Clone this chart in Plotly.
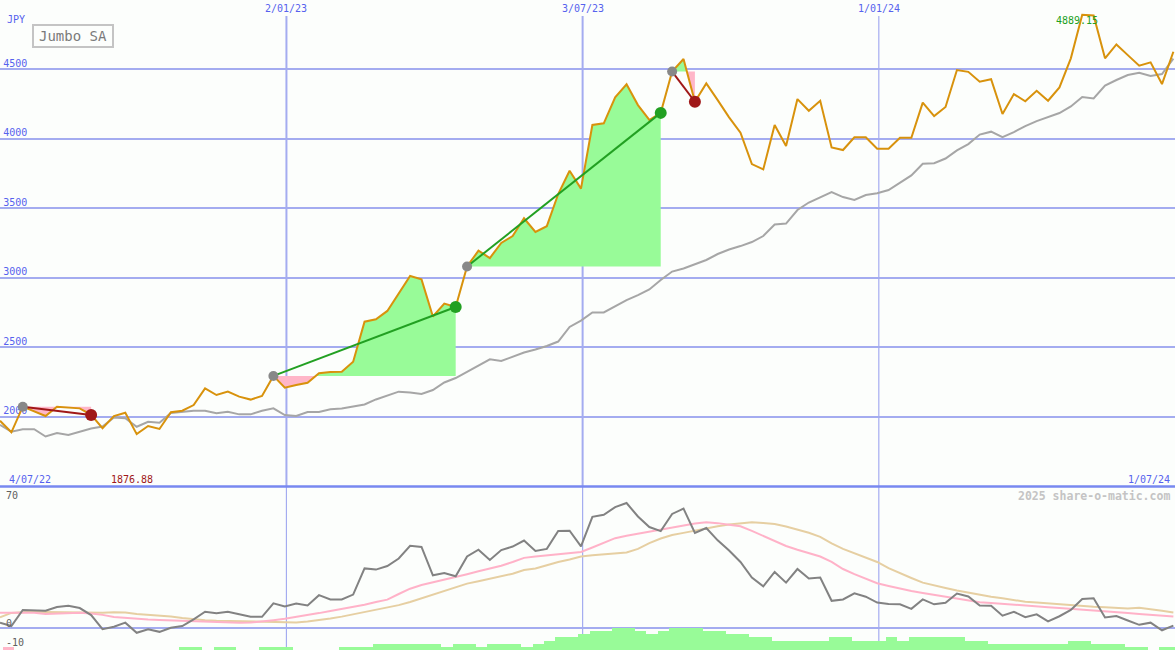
import pandas as pd
import plotly.graph_objects as go

# ---------------- data ----------------
start_date = "2022-07-10"
n_weeks = 104
dates = pd.date_range(start_date, periods=n_weeks, freq="7D")

price = [1973, 1890, 2074, 2041, 2007, 2074, 2070, 2062, 2015, 1919,
         2007, 2031, 1876.88, 1935, 1914, 2034, 2045, 2086, 2206, 2158,
         2182, 2146, 2125, 2151, 2295, 2210, 2230, 2246, 2314, 2323,
         2325, 2397, 2685, 2702, 2762, 2887, 3013, 2989, 2722, 2815,
         2790, 3081, 3195, 3142, 3250, 3300, 3428, 3330, 3371, 3602,
         3769, 3641, 4098, 4110, 4297, 4390, 4241, 4134, 4185, 4482,
         4572, 4265, 4397, 4277, 4153, 4042, 3817, 3779, 4098, 3947,
         4284, 4200, 4272, 3937, 3918, 4009, 4009, 3927, 3927, 4006,
         4006, 4259, 4162, 4227, 4493, 4480, 4409, 4427, 4177, 4320,
         4268, 4344, 4272, 4368, 4577, 4889.15, 4885, 4577, 4677, 4600,
         4524, 4548, 4392, 4624]

moving_avg = [1943, 1894, 1912, 1912, 1860, 1885, 1871, 1892, 1917, 1932,
              1996, 1991, 1930, 1966, 1959, 2029, 2038, 2045, 2045, 2027,
              2038, 2019, 2019, 2045, 2062, 2014, 2007, 2036, 2036, 2055,
              2061, 2075, 2090, 2126, 2154, 2182, 2176, 2165, 2194, 2248,
              2280, 2323, 2366, 2414, 2402, 2432, 2463, 2485, 2510, 2542,
              2647, 2693, 2751, 2751, 2797, 2840, 2876, 2916, 2984, 3045,
              3067, 3099, 3128, 3171, 3203, 3228, 3257, 3300, 3383, 3390,
              3487, 3541, 3580, 3616, 3580, 3559, 3595, 3607, 3631, 3681,
              3736, 3819, 3823, 3857, 3916, 3961, 4029, 4050, 4011, 4047,
              4090, 4126, 4155, 4184, 4231, 4299, 4289, 4381, 4421, 4457,
              4473, 4450, 4464, 4575]

oscillator = [2.5, 0.8, 9.0, 8.8, 8.6, 10.5, 11.2, 10.0, 6.4, -0.8,
              0.4, 2.5, -2.7, -0.9, -2.2, -0.1, 0.8, 4.2, 8.1, 7.3,
              8.1, 6.8, 5.5, 5.5, 12.4, 10.8, 12.3, 11.3, 16.6, 14.4,
              14.4, 16.9, 30.3, 29.7, 31.5, 35.4, 41.9, 41.3, 26.8, 27.9,
              26.3, 36.4, 39.9, 34.6, 39.7, 41.5, 44.6, 39.2, 40.3, 49.5,
              49.6, 41.6, 56.7, 57.8, 61.7, 63.8, 56.9, 51.5, 49.4, 58.2,
              60.9, 48.5, 51.0, 44.7, 39.5, 33.6, 25.6, 21.1, 28.5, 23.0,
              30.0, 25.1, 25.6, 13.7, 14.4, 17.5, 15.8, 12.8, 12.1, 11.9,
              9.6, 14.4, 11.9, 12.7, 17.4, 15.9, 11.3, 11.2, 6.1, 8.1,
              5.3, 6.8, 3.2, 5.8, 9.0, 14.6, 15.0, 5.2, 5.9, 3.6,
              1.4, 2.5, -1.4, 1.0]

osc_fast_avg = [7.6, 7.6, 7.6, 7.6, 7.0, 7.2, 7.7, 7.6, 7.2, 6.5,
                5.4, 4.9, 4.4, 4.1, 3.9, 3.7, 3.3, 3.0, 2.8, 2.7,
                2.5, 2.5, 2.6, 3.1, 3.8, 4.5, 5.4, 6.4, 7.4, 8.5,
                9.5, 10.5, 11.7, 13.1, 14.3, 17.2, 19.9, 21.8, 23.1, 24.5,
                25.9, 27.3, 28.8, 30.3, 31.7, 33.6, 35.7, 36.4, 37.0, 37.7,
                38.2, 38.7, 41.0, 43.4, 45.8, 47.0, 48.1, 49.1, 50.2, 51.3,
                52.4, 53.3, 53.9, 53.5, 52.7, 51.9, 49.5, 46.9, 44.4, 41.8,
                39.9, 38.2, 36.4, 33.6, 30.0, 27.4, 25.0, 22.7, 21.3, 19.9,
                18.7, 17.7, 16.8, 15.8, 14.8, 13.8, 13.0, 12.6, 12.1, 11.7,
                11.3, 10.9, 10.4, 10.0, 9.5, 9.1, 8.6, 8.2, 7.8, 7.4,
                7.0, 6.5, 6.1, 5.6]

osc_slow_avg = [5.2, 7.5, 7.8, 8.1, 8.0, 7.9, 7.8, 7.7, 7.6, 7.6,
                7.9, 7.7, 6.9, 6.5, 6.2, 5.6, 4.9, 4.2, 3.8, 3.5,
                3.4, 3.3, 3.2, 3.0, 2.8, 2.6, 2.6, 3.1, 3.8, 4.6,
                5.6, 6.8, 7.9, 9.2, 10.5, 11.5, 13.1, 14.9, 16.7, 18.7,
                20.6, 22.5, 23.7, 25.0, 26.3, 27.6, 29.5, 30.3, 31.9, 33.6,
                34.9, 36.4, 37.0, 37.5, 37.9, 38.5, 40.3, 43.3, 45.6, 47.4,
                48.5, 49.7, 50.9, 51.9, 52.8, 53.4, 53.9, 53.6, 53.0, 51.8,
                50.2, 48.6, 46.5, 43.1, 40.3, 38.2, 35.9, 33.6, 30.4, 27.7,
                25.4, 23.0, 21.5, 20.3, 19.0, 17.9, 16.8, 15.8, 15.0, 14.1,
                13.2, 12.8, 12.3, 11.9, 11.4, 11.0, 10.6, 10.4, 10.1, 9.8,
                10.1, 9.5, 8.6, 7.7]

volume_level = [0, 0, 0, 0, 0, 0, 0, 0, 0, 0,
                0, 0, 0, 0, 0, 0, 1, 1, 0, 1,
                1, 0, 0, 1, 1, 1, 0, 0, 0, 0,
                1, 1, 1, 2, 2, 2, 2, 2, 2, 1,
                2, 2, 1, 2, 2, 2, 1, 2, 3, 4,
                4, 5, 6, 6, 7, 7, 6, 5, 6, 7,
                7, 7, 6, 6, 5, 5, 4, 4, 3, 3,
                3, 3, 3, 4, 4, 3, 3, 3, 4, 3,
                4, 4, 4, 4, 4, 3, 3, 2, 2, 2,
                2, 2, 2, 2, 3, 3, 2, 2, 2, 1,
                1, 0, 1, 1]
volume_neg_level = [1] + [0] * 103

# trades: (entry week index, exit week index)
trades = [(2, 8), (24, 40), (41, 58), (59, 61)]

y_levels = [2000, 2500, 3000, 3500, 4000, 4500]
y_level_labels = ["2000", "2500", "3000", "3500", "4000", "4500"]
grid_dates = ["2023-01-02", "2023-07-03", "2024-01-01"]
grid_labels = ["2/01/23", "3/07/23", "1/01/24"]
x_range = ["2022-07-10", "2024-07-01"]
first_label, last_label = "4/07/22", "1/07/24"
min_label, max_label = "1876.88", "4889.15"
osc_labels = [("70", 70), ("0", 0), ("-10", -10)]

# ---------------- styling ----------------
BG = "#FCFEFC"
GRID = "#A4ACF0"
BLUE_TXT = "#5662EE"
ORANGE = "#D8920C"
GREY_MA = "#A6A6A6"
FILL_G = "#98FB98"
FILL_P = "#FFB6C8"
GREEN = "#22A022"
RED = "#A01818"
MONO = "DejaVu Sans Mono"
H = 650
W = 1175


def py(pix):
    return 1 - pix / H


fig = go.Figure()

# trade fills
for (ks, ke) in trades:
    E = price[ks]
    xs = [dates[ks]]
    ys = [price[ks]]
    for k in range(ks, ke):
        p0, p1 = price[k], price[k + 1]
        if (p0 - E) * (p1 - E) < 0:
            t = (E - p0) / (p1 - p0)
            xs.append(dates[k] + (dates[k + 1] - dates[k]) * t)
            ys.append(E)
        xs.append(dates[k + 1])
        ys.append(p1)
    base = [E] * len(xs)
    up = [max(v, E) for v in ys]
    dn = [min(v, E) for v in ys]
    for arr, col in ((up, FILL_G), (dn, FILL_P)):
        fig.add_trace(go.Scatter(x=xs, y=base, mode="lines", line=dict(width=0),
                                 hoverinfo="skip", showlegend=False))
        fig.add_trace(go.Scatter(x=xs, y=arr, mode="lines", line=dict(width=0),
                                 fill="tonexty", fillcolor=col,
                                 hoverinfo="skip", showlegend=False))

# y level labels (as text trace so markers can cover them)
fig.add_trace(go.Scatter(x=[dates[0] + pd.Timedelta(days=2)] * len(y_levels), y=y_levels,
                         mode="text", text=y_level_labels, textposition="top right",
                         textfont=dict(family=MONO, size=10, color=BLUE_TXT), cliponaxis=False,
                         hoverinfo="skip", showlegend=False))

# moving average and price
fig.add_trace(go.Scatter(x=dates, y=moving_avg, mode="lines",
                         line=dict(color=GREY_MA, width=2), showlegend=False))
fig.add_trace(go.Scatter(x=dates, y=price, mode="lines",
                         line=dict(color=ORANGE, width=2), showlegend=False))

# trade lines and markers
for (ks, ke) in trades:
    win = price[ke] >= price[ks]
    col = GREEN if win else RED
    fig.add_trace(go.Scatter(x=[dates[ks], dates[ke]], y=[price[ks], price[ke]],
                             mode="lines", line=dict(color=col, width=2), showlegend=False))
    fig.add_trace(go.Scatter(x=[dates[ks]], y=[price[ks]], mode="markers",
                             marker=dict(color="#888888", size=10), showlegend=False))
    fig.add_trace(go.Scatter(x=[dates[ke]], y=[price[ke]], mode="markers",
                             marker=dict(color=col, size=12), showlegend=False))

# lower panel
bar_x = dates + pd.Timedelta(days=3.5)
fig.add_trace(go.Bar(x=bar_x, y=volume_level, width=7 * 86400000, marker=dict(color=FILL_G, line=dict(width=0)),
                     xaxis="x2", yaxis="y3", showlegend=False))
fig.add_trace(go.Bar(x=bar_x, y=volume_neg_level, width=7 * 86400000, marker=dict(color=FILL_P, line=dict(width=0)),
                     xaxis="x2", yaxis="y3", showlegend=False))
fig.add_trace(go.Scatter(x=dates, y=osc_slow_avg, mode="lines", line=dict(color="#E6CFA2", width=2),
                         xaxis="x2", yaxis="y2", showlegend=False))
fig.add_trace(go.Scatter(x=dates, y=osc_fast_avg, mode="lines", line=dict(color="#FFB2C8", width=2),
                         xaxis="x2", yaxis="y2", showlegend=False))
fig.add_trace(go.Scatter(x=dates, y=oscillator, mode="lines", line=dict(color="#828282", width=2),
                         xaxis="x2", yaxis="y2", showlegend=False))

sep = 1 - 487 / H
low_top = 162 / H

shapes = []
for i, gd in enumerate(grid_dates):
    shapes.append(dict(type="line", xref="x", yref="paper", x0=gd, x1=gd,
                       y0=sep, y1=py(16), line=dict(color=GRID, width=2 if i < 2 else 1.2),
                       layer="below"))
    shapes.append(dict(type="line", xref="x", yref="paper", x0=gd, x1=gd,
                       y0=0, y1=sep, line=dict(color=GRID, width=1.2), layer="below"))
shapes.append(dict(type="line", xref="paper", yref="paper", x0=0, x1=1, y0=py(486.5), y1=py(486.5),
                   line=dict(color="#7888F0", width=2.5), layer="above"))

annotations = []
for gd, gl in zip(grid_dates, grid_labels):
    annotations.append(dict(x=gd, xref="x", y=py(8), yref="paper", text=gl, showarrow=False,
                            xanchor="center", yanchor="middle",
                            font=dict(family=MONO, size=10, color=BLUE_TXT)))
annotations += [
    dict(x=5 / W, xref="paper", y=py(19), yref="paper", text="JPY", showarrow=False,
         xanchor="left", yanchor="middle", font=dict(family=MONO, size=10, color=BLUE_TXT)),
    dict(x=73 / W, xref="paper", y=py(36), yref="paper", text="Jumbo SA", showarrow=False,
         xanchor="center", yanchor="middle", width=76, height=18, borderpad=1,
         bordercolor="#C4C4C4", borderwidth=2,
         font=dict(family=MONO, size=14, color="#7A7A7A")),
    dict(x=7 / W, xref="paper", y=py(479), yref="paper", text=first_label, showarrow=False,
         xanchor="left", yanchor="middle", font=dict(family=MONO, size=10, color=BLUE_TXT)),
    dict(x=109 / W, xref="paper", y=py(479), yref="paper", text=min_label, showarrow=False,
         xanchor="left", yanchor="middle", font=dict(family=MONO, size=10, color=RED)),
    dict(x=1172 / W, xref="paper", y=py(479), yref="paper", text=last_label, showarrow=False,
         xanchor="right", yanchor="middle", font=dict(family=MONO, size=10, color=BLUE_TXT)),
    dict(x=1054 / W, xref="paper", y=py(21), yref="paper", text=max_label, showarrow=False,
         xanchor="left", yanchor="middle", font=dict(family=MONO, size=10, color=GREEN)),
    dict(x=1172 / W, xref="paper", y=py(496), yref="paper", text="<b>2025 share-o-matic.com</b>",
         showarrow=False, xanchor="right", yanchor="middle",
         font=dict(family=MONO, size=11.5, color="#C4C4C4")),
]
for txt, val in osc_labels:
    annotations.append(dict(x=4 / W, xref="paper", y=val, yref="y2", text=txt, showarrow=False,
                            xanchor="left", yanchor="bottom", yshift=-3 if val != 70 else -12,
                            font=dict(family=MONO, size=10, color="#606060")))

fig.update_layout(
    width=W, height=H, margin=dict(l=0, r=0, t=0, b=0),
    paper_bgcolor=BG, plot_bgcolor=BG, showlegend=False, bargap=0, hovermode=False,
    xaxis=dict(domain=[0, 1], range=x_range, visible=False, anchor="y"),
    xaxis2=dict(domain=[0, 1], range=x_range, visible=False, anchor="y2", matches="x"),
    yaxis=dict(domain=[sep, 1], range=[1497, 4996], tickvals=y_levels, showticklabels=False,
               showgrid=True, gridcolor=GRID, gridwidth=2, zeroline=False, showline=False, ticks=""),
    yaxis2=dict(domain=[0, low_top], range=[-11.5, 71.5], tickvals=[0], showticklabels=False,
                showgrid=True, gridcolor=GRID, gridwidth=2, zeroline=False, showline=False, ticks=""),
    yaxis3=dict(domain=[0, low_top], range=[0, 51.4], overlaying="y2", visible=False),
    shapes=shapes, annotations=annotations,
)

fig.write_html("out.html", config={"displayModeBar": False},
               post_script="document.body.style.margin='0';document.body.style.background='" + BG + "';")
